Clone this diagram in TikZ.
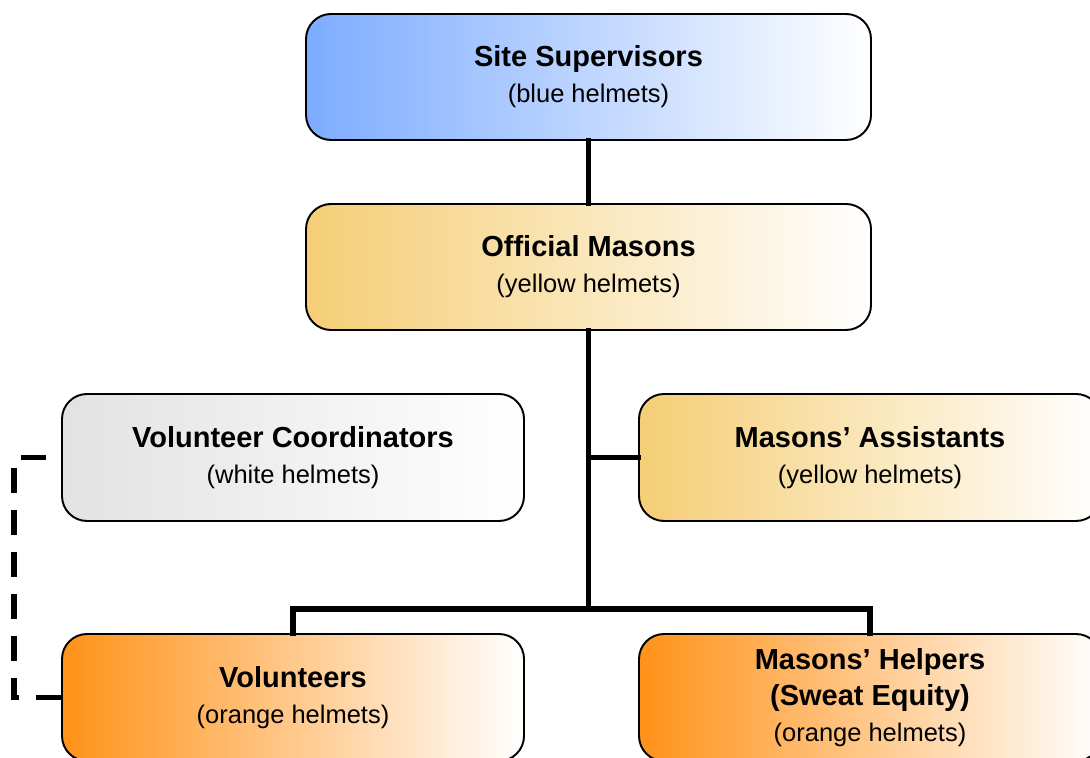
\documentclass[tikz,border=0pt]{standalone}
\usepackage{fontspec}
\setmainfont{Liberation Sans}
\usetikzlibrary{positioning}
\definecolor{helmetBlue}{RGB}{125,172,255}
\definecolor{helmetYellow}{RGB}{245,206,118}
\definecolor{helmetOrange}{RGB}{255,146,24}
\definecolor{helmetWhite}{RGB}{226,226,226}
\newcommand{\roleText}[2]{%%
  {\fontsize{16.5}{20.5}\selectfont\bfseries #1}\\#2%%
}

\begin{document}
\begin{tikzpicture}[%%
  lineStyle/.style={-,line width=3.3pt,line cap=rect},%%
  dashStyle/.style={-,line width=3.3pt,dash pattern=on 0.5cm off 0.34cm},%%
  boxStyle/.style={draw,line width=1.1pt,rounded corners=0.5cm,align=center,
    font=\fontsize{14.5}{20.5}\selectfont,inner sep=2pt},%%
  wideBox/.style={boxStyle,minimum width=11.3cm,minimum height=2.52cm},%%
  sideBox/.style={boxStyle,minimum width=9.24cm,minimum height=2.54cm}%%
]
%%
%%
\pgfmathsetmacro{\busY}{2.98}
\pgfmathsetmacro{\dashX}{0.28}
%%
\useasboundingbox (0,0) rectangle (21.8,15.16);
%%
%% The boxes, top to bottom.
\node[wideBox,left color=helmetBlue,right color=white] (siteSupervisors)
  at (11.77,13.62) {\roleText{Site Supervisors}{(blue helmets)}};
\node[wideBox,left color=helmetYellow,right color=white] (officialMasons)
  at (11.77,9.82) {\roleText{Official Masons}{(yellow helmets)}};
\node[sideBox,left color=helmetWhite,right color=white] (volCoordinators)
  at (5.86,6.01) {\roleText{Volunteer Coordinators}{(white helmets)}};
\node[sideBox,left color=helmetYellow,right color=white] (masonsAssistants)
  at (17.40,6.01) {\roleText{Masons’ Assistants}{(yellow helmets)}};
\node[sideBox,left color=helmetOrange,right color=white] (volunteers)
  at (5.86,1.21) {\roleText{Volunteers}{(orange helmets)}};
\node[sideBox,left color=helmetOrange,right color=white] (masonsHelpers)
  at (17.40,1.21)
  {{\fontsize{16.5}{20.5}\selectfont\bfseries Masons’ Helpers}\\
   {\fontsize{16.5}{20.5}\selectfont\bfseries (Sweat Equity)}\\(orange helmets)};
%%
%% Points where the lines turn.
\coordinate (busMid) at (officialMasons.south |- 0,\busY);
\coordinate (busLeft) at (volunteers.north |- 0,\busY);
\coordinate (busRight) at (masonsHelpers.north |- 0,\busY);
\coordinate (branch) at (officialMasons.south |- masonsAssistants.west);
\coordinate (dashTop) at (\dashX,0 |- volCoordinators.west);
\coordinate (dashBottom) at (\dashX,0 |- volunteers.west);
%%
%% The solid lines.
\draw[lineStyle] (siteSupervisors) -- (officialMasons);
\draw[lineStyle] (officialMasons) -- (busMid);
\draw[lineStyle] (branch) -- (masonsAssistants);
\draw[lineStyle] (volunteers) -- (busLeft) -- (busRight) -- (masonsHelpers);
%% The dashed line on the left.
\draw[dashStyle] (volunteers.west) -- (dashBottom) -- (dashTop) -- (volCoordinators.west);
\end{tikzpicture}
\end{document}
